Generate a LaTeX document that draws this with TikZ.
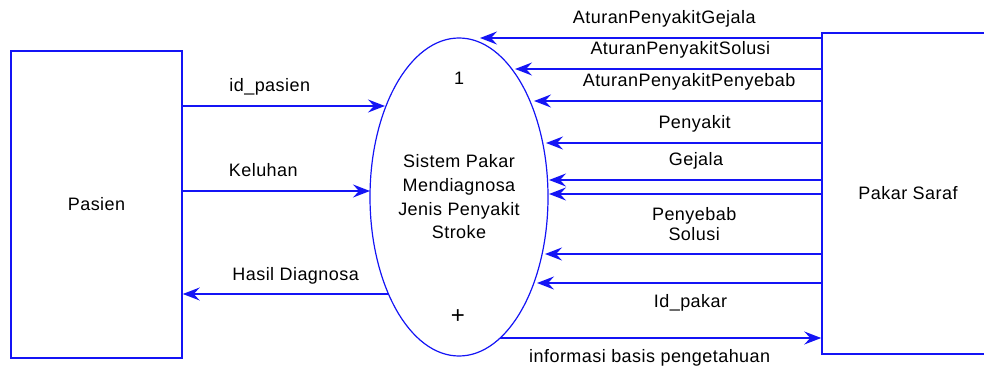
\documentclass[tikz,border=0pt]{standalone}
\usepackage{fontspec}
\setmainfont{Liberation Sans}[LetterSpace=2.5]
\usetikzlibrary{positioning,arrows.meta,shapes.geometric}
\definecolor{dfdblue}{RGB}{20,20,245}
\newcommand{\lbfont}{\fontsize{18}{20}\selectfont}
\tikzset{x=1pt,y=-1pt,
flow/.style={draw=dfdblue,line width=1.6pt,-{Stealth[length=17pt,width=13pt,inset=6pt]}},
ent/.style={rectangle,draw=dfdblue,line width=1.5pt,font=\lbfont},
proc/.style={ellipse,draw=dfdblue,line width=1.2pt,align=center,inner sep=0pt,
  font=\fontsize{18}{23.7}\selectfont},
el/.style={font=\lbfont,anchor=base,inner sep=0pt,yshift=14pt},
elb/.style={font=\lbfont,anchor=base,inner sep=0pt,yshift=-24pt},
}

\begin{document}
\begin{tikzpicture}
	\useasboundingbox (0,0) rectangle (984,366);
	\clip (0,0) rectangle (984,366);

	\node[ent,minimum width=171pt,minimum height=307pt] (pasien) at (96.5,204.5) {Pasien};
	\node[ent,minimum width=172pt,minimum height=321pt] (pakar) at (908,193.5) {Pakar Saraf};
	\node[proc,minimum width=178pt,minimum height=318pt] (sistem) at (459,197)
		{Sistem Pakar\\Mendiagnosa\\Jenis Penyakit\\Stroke};
	\node[font=\lbfont] (nomor) at (459,78) {1};
	\node[font=\fontsize{24}{24}\selectfont] (plus) at (458,317) {+};

	% ends of the flows on the bubble
	\foreach \n/\y/\x in {g/38/480,s/69/515,p/101/534,k/143/546,j/180/549,b/194/549,o/254/545,d/283/537}
		\coordinate (r\n) at (\x,\y);
	\coordinate (lid) at (385,106);
	\coordinate (lkel) at (370,191);
	\coordinate (lhas) at (388,294);
	\coordinate (linfo) at (500,338);

	\path
	(pasien.east |- lid) edge[flow] node[el,pos=.43] {id\_pasien} (lid)
	(pasien.east |- lkel) edge[flow] node[el,pos=.43] {Keluhan} (lkel)
	(lhas) edge[flow] node[el,pos=.45] {Hasil Diagnosa} (pasien.east |- lhas)
	;

	\path
	(pakar.west |- rg) edge[flow] node[el,pos=.46] {AturanPenyakitGejala} (rg)
	(pakar.west |- rs) edge[flow] node[el,pos=.46] {AturanPenyakitSolusi} (rs)
	(pakar.west |- rp) edge[flow] node[el,pos=.46] {AturanPenyakitPenyebab} (rp)
	(pakar.west |- rk) edge[flow] node[el,pos=.46] {Penyakit} (rk)
	(pakar.west |- rj) edge[flow] node[el,pos=.46] {Gejala} (rj)
	(pakar.west |- rb) edge[flow] (rb)
	(pakar.west |- ro) edge[flow] node[el,pos=.46,align=center] {Penyebab\\Solusi} (ro)
	(pakar.west |- rd) edge[flow] node[elb,pos=.46] {Id\_pakar} (rd)
	(linfo) edge[flow] node[elb,pos=.466] {informasi basis pengetahuan} (pakar.west |- linfo)
	;
\end{tikzpicture}
\end{document}
